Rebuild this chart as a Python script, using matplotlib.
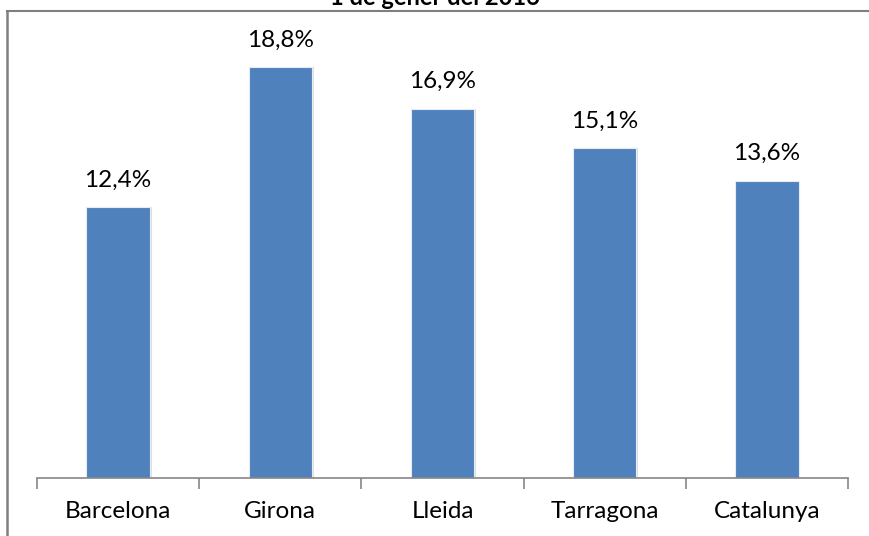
import matplotlib
matplotlib.use("Agg")
import matplotlib.pyplot as plt
from matplotlib.lines import Line2D

categories = ["Barcelona", "Girona", "Lleida", "Tarragona", "Catalunya"]
values = [12.4, 18.8, 16.9, 15.1, 13.6]
value_labels = ["12,4%", "18,8%", "16,9%", "15,1%", "13,6%"]
title = "1 de gener del 2016"

W, H = 869, 536
fig = plt.figure(figsize=(W / 100, H / 100), dpi=100)
plt.rcParams['font.family'] = ['Lato', 'DejaVu Sans']

# axes: x from 37 to 848 px, y bottom 478, top 30
x0, x1 = 37, 848
yb, yt = 478, 30
ax = fig.add_axes([x0 / W, 1 - yb / H, (x1 - x0) / W, (yb - yt) / H])
ymax = (yb - yt) / 21.85
ax.set_ylim(0, ymax)
ax.set_xlim(-0.5, len(categories) - 0.5)

xs = list(range(len(categories)))
bw = 0.39
# shadow
ax.bar([x + 0.012 for x in xs], values, width=bw, color="#c8c8c8", zorder=1, alpha=0.6)
ax.bar(xs, values, width=bw, color="#4F81BD", edgecolor="#e6ecf4", linewidth=0.8, zorder=2)

for x, v, lab in zip(xs, values, value_labels):
    ax.annotate(lab, (x, v), xytext=(0, 19.5), textcoords="offset points",
                ha="center", va="center", fontsize=17.5, color="black")

for s in ["left", "right", "top"]:
    ax.spines[s].set_visible(False)
ax.spines["bottom"].set_color("#868686")
ax.spines["bottom"].set_linewidth(1.2)
ax.set_yticks([])
ax.set_xticks([x - 0.5 for x in range(len(categories) + 1)], minor=False)
ax.set_xticklabels([""] * (len(categories) + 1))
ax.tick_params(axis="x", length=8, width=1.2, color="#868686", direction="out")
for x, c in zip(xs, categories):
    ax.text(x, -34 / (yb - yt), c, transform=ax.get_xaxis_transform(), ha="center",
            va="center", fontsize=17.5, color="black")

# frame lines (left and top)
fig.add_artist(Line2D([7.5 / W, 7.5 / W], [0, 1 - 11 / H], color="#7f7f7f", linewidth=1.8))
fig.add_artist(Line2D([7.5 / W, 1], [1 - 11 / H, 1 - 11 / H], color="#7f7f7f", linewidth=1.5))

fig.text(435 / W, 1 - 5 / H, title, ha="center", va="baseline", fontsize=17,
         fontweight="bold", color="black")

fig.savefig("out.png", dpi=100)
